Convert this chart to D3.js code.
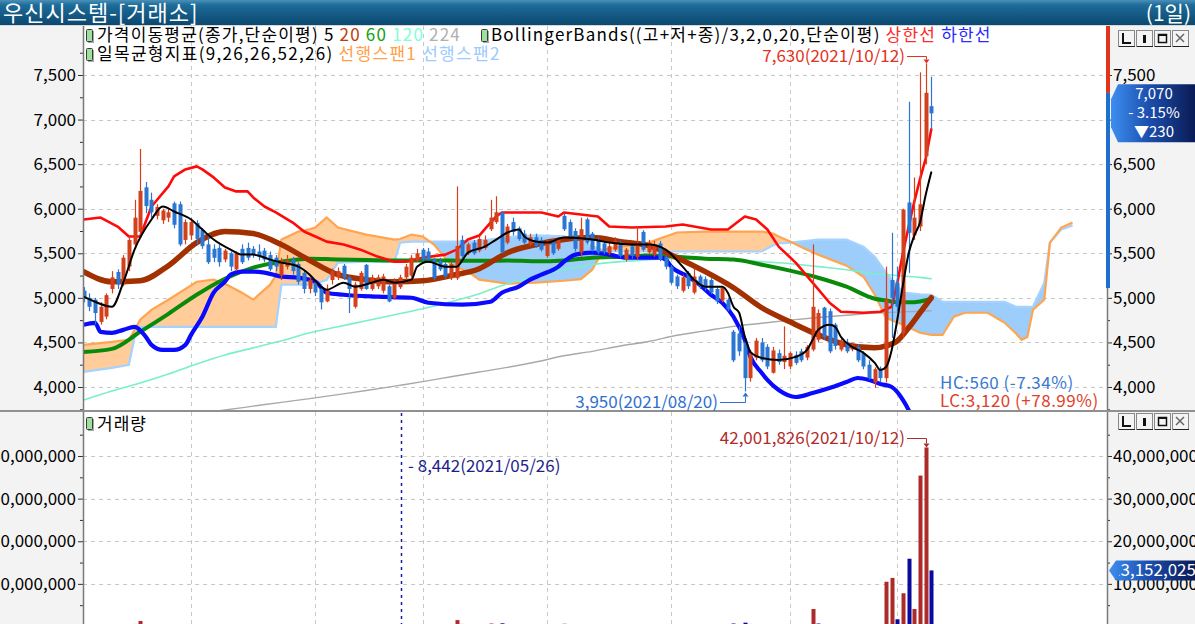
<!DOCTYPE html>
<html><head><meta charset="utf-8">
<script src="https://cdn.jsdelivr.net/npm/d3@7"></script>
<style>
body{margin:0;background:#fff;overflow:hidden}
text{font-family:"Noto Sans CJK KR","Noto Sans",sans-serif}
</style>
</head><body>
<svg id="c" width="1195" height="624"></svg>
<script>
// ---------------- DATA ----------------
const title = "우신시스템-[거래소]";
const period = "(1일)";
const priceTicks = [4000,4500,5000,5500,6000,6500,7000,7500];
const priceMinor = [3750,4250,4750,5250,5750,6250,6750,7250,7750];
const volTicks = [10000000,20000000,30000000,40000000];
const volMinor = [5000000,15000000,25000000,35000000,45000000];
const monthStartIdx = [19,41,60,82,104,125,144];

const opens = [5080,5000,4980,4730,4790,5100,5290,5150,5350,5600,5740,6240,6100,5920,5870,5900,6060,6050,5650,5700,
5840,5760,5600,5550,5560,5430,5500,5320,5550,5560,5550,5520,5530,5480,5450,5250,5350,5430,5380,5280,
5100,5170,5100,4960,5200,5230,5360,5230,4900,5100,5370,5100,5130,5080,5130,5000,5120,5230,5250,5420,
5540,5520,5430,5410,5380,5220,5220,5650,5500,5620,5530,5560,5770,5850,5960,5620,5850,5780,5720,5600,
5680,5650,5470,5640,5550,5920,5850,5750,5510,5880,5720,5650,5610,5500,5540,5620,5430,5580,5460,5740,
5510,5480,5610,5460,5350,5240,5080,5280,5060,5240,5210,5200,5100,4970,4980,4620,4600,4500,4100,4330,
4500,4450,4160,4380,4280,4230,4360,4400,4330,4420,4530,4890,4850,4700,4420,4500,4420,4450,4380,4250,
4050,4200,4100,5200,5170,4600,6070,5700,5800,6590,7150];
const highs = [5120,5050,5000,4950,5050,5300,5320,5480,5700,6100,6670,6300,6180,6050,6000,6000,6080,6080,5880,5900,
5870,5780,5700,5600,5600,5550,5520,5520,5600,5620,5580,5600,5560,5520,5480,5450,5480,5460,5400,5300,
5230,5200,5150,5150,5330,5340,5380,5250,5180,5300,5380,5260,5260,5270,5150,5220,5260,5380,5480,5550,
5560,5560,5450,5450,5400,5400,6250,5700,5620,5650,5700,5700,6100,6140,5970,5830,5900,5800,5760,5720,
5720,5680,5650,5660,5680,5950,5880,5780,5900,5900,5740,5680,5640,5620,5680,5640,5560,5600,5800,5760,
5650,5640,5640,5480,5370,5260,5260,5300,5330,5260,5240,5220,5120,5120,5000,4640,4680,4530,4420,4550,
4550,4480,4450,4420,4680,4400,4400,4430,4470,5600,4870,4900,4880,4720,4560,4540,4500,4480,4400,4300,
4220,4230,5350,5730,5350,6000,7200,6350,7530,7630,7480];
const lows = [4950,4850,4700,4700,4760,5050,5100,5130,5300,5550,5700,5950,5900,5880,5830,5850,5780,5580,5600,5650,
5600,5550,5380,5400,5350,5400,5300,5300,5380,5420,5450,5420,5400,5300,5300,5200,5320,5260,5150,5050,
5050,5020,4870,4950,5150,5200,5200,4830,4880,5080,5090,5080,5100,5050,4950,4980,5100,5200,5230,5400,
5400,5400,5200,5300,5220,5200,5200,5450,5480,5480,5510,5540,5750,5830,5500,5600,5700,5640,5600,5580,
5560,5520,5450,5480,5530,5750,5660,5520,5460,5600,5520,5490,5490,5480,5520,5450,5410,5440,5430,5520,
5490,5460,5410,5320,5150,5100,5060,5100,5040,5100,5080,5040,4930,4950,4850,4280,4350,3950,4060,4300,
4280,4200,4150,4250,4200,4200,4250,4280,4300,4400,4500,4530,4380,4420,4400,4380,4400,4280,4200,4080,
3990,4050,4050,4550,4850,4550,5280,5650,5750,6500,6890];
const closes = [4990,4900,4830,4900,5030,5230,5150,5450,5650,5900,6200,6030,5960,6020,5980,5960,5820,5600,5850,5850,
5660,5580,5400,5450,5400,5530,5350,5500,5400,5450,5480,5460,5430,5320,5350,5420,5420,5300,5180,5100,
5200,5060,4950,5100,5300,5300,5230,5100,5150,5280,5100,5230,5230,5240,4960,5180,5230,5350,5450,5500,
5430,5420,5220,5320,5240,5380,5580,5470,5600,5500,5660,5650,5900,5960,5510,5800,5740,5660,5620,5680,
5580,5540,5620,5500,5650,5770,5690,5550,5770,5620,5540,5510,5510,5580,5640,5470,5540,5470,5600,5540,
5620,5600,5430,5350,5170,5130,5230,5130,5240,5130,5110,5060,4960,5110,4870,4300,4400,4100,4380,4520,
4300,4230,4410,4280,4350,4380,4270,4300,4450,4900,4830,4560,4400,4460,4520,4400,4470,4300,4230,4100,
4200,4100,4980,5000,4900,5990,5730,5900,6050,7300,7070];
const volumes = [320000,280000,350000,300000,380000,420000,300000,390000,450000,600000,1300000,520000,380000,300000,260000,250000,280000,330000,240000,220000,
210000,200000,260000,180000,190000,170000,200000,160000,170000,150000,140000,150000,130000,160000,150000,170000,140000,150000,180000,200000,
160000,170000,210000,180000,190000,150000,140000,220000,190000,160000,200000,150000,130000,140000,190000,150000,8442,150000,200000,180000,
170000,160000,190000,150000,160000,200000,1500000,600000,350000,280000,400000,380000,700000,550000,750000,400000,300000,250000,230000,210000,
200000,190000,220000,230000,260000,650000,380000,300000,420000,350000,280000,240000,220000,200000,230000,210000,190000,180000,350000,260000,
220000,200000,230000,210000,300000,260000,240000,230000,280000,220000,200000,210000,260000,240000,330000,700000,500000,900000,600000,400000,
350000,330000,380000,300000,550000,320000,260000,240000,300000,4100000,700000,450000,420000,350000,300000,260000,240000,280000,300000,360000,
380000,330000,10500000,11400000,1700000,7800000,15900000,4100000,35400000,42001826,13152025];

// moving averages (values at these bar positions)
const lineIdx = [0,5,10,15,20,25,30,35,40,45,50,55,60,65,70,75,80,85,90,95,100,105,110,115,120,125,130,135,140,142,144,146,148,150];
const ma20 = [5294,5181,5192,5361,5620,5744,5721,5597,5420,5260,5204,5181,5192,5249,5327,5507,5597,5654,5676,5631,5586,5451,5294,5114,4889,4731,4585,4473,4439,4461,4518,4664,4833,5001];
const ma60 = [4394,4428,4619,4821,5035,5215,5339,5406,5440,5430,5425,5420,5420,5420,5415,5420,5410,5420,5451,5462,5474,5462,5440,5429,5372,5305,5226,5125,4990,4970,4950,4950,4960,4990];
const ma120 = [3854,3955,4045,4146,4259,4360,4439,4518,4608,4675,4743,4810,4878,4956,5046,5159,5237,5316,5372,5406,5429,5440,5440,5429,5406,5383,5350,5316,5271,5260,5250,5240,5230,5215];
const ma224 = [3530,3570,3615,3660,3700,3742,3785,3828,3870,3915,3960,4010,4060,4115,4168,4220,4280,4350,4400,4460,4510,4580,4630,4680,4715,4750,4780,4805,4830,4835,4840,4845,4850,4855];

const ma5Idx = [0,2,5,7,9,12,14,16,19,21,23,26,28,30,33,35,38,40,42,43,46,48,51,53,55,58,59,61,64,66,68,71,73,75,77,78,80,82,85,90,93,97,100,103,106,108,110,113,114,115,116,117,118,120,123,126,128,129,130,132,133,134,136,138,140,141,142,143,144,145,146,147,148,149,150];
const ma5 = [5013,4956,4900,5170,5541,5879,6025,5969,5879,5766,5654,5541,5485,5485,5429,5395,5350,5260,5125,5091,5170,5125,5170,5204,5170,5204,5350,5406,5350,5350,5508,5575,5654,5733,5766,5688,5631,5620,5676,5654,5620,5598,5598,5541,5350,5204,5125,5125,5058,4900,4833,4563,4394,4326,4304,4338,4416,4529,4641,4698,4675,4563,4450,4383,4270,4191,4225,4416,4760,5150,5500,5700,5845,6150,6408];
const bbUIdx = [0,3,6,8,10,12,15,16,18,20,21,23,25,27,29,30,32,34,37,39,41,43,46,49,52,55,57,60,64,66,68,70,72,73,74,81,84,85,91,93,97,103,106,111,114,117,119,121,123,126,129,132,134,138,141,143,144,145,146,147,148,149,150];
const bbUpper = [5879,5901,5800,5688,5688,6025,6250,6363,6441,6475,6441,6351,6239,6194,6194,6126,6025,5958,5845,5744,5688,5631,5598,5541,5463,5406,5406,5451,5485,5541,5654,5699,5845,5913,5958,5958,5913,5958,5913,5800,5789,5800,5823,5766,5766,5913,5879,5766,5575,5395,5170,4945,4844,4833,4844,4900,5170,5508,5800,6080,6330,6560,6890];
const bbLIdx = [0,2,3,5,7,9,11,12,14,16,18,19,21,23,25,26,28,30,32,35,38,41,43,46,52,58,61,67,72,74,77,79,81,84,85,87,90,93,96,102,103,104,107,109,111,113,115,117,118,120,121,123,126,129,132,135,137,139,141,143,145,146,148,150];
const bbLower = [4698,4720,4619,4608,4641,4675,4563,4473,4416,4416,4473,4585,4788,5058,5181,5260,5294,5294,5283,5238,5226,5181,5058,5035,5013,5001,4945,4923,4956,5058,5125,5204,5260,5350,5406,5485,5508,5485,5451,5451,5429,5350,5238,5148,5035,4945,4788,4529,4338,4158,4079,3966,3888,3933,3989,4056,4101,4079,4034,4000,3854,3741,3400,3060];

// ichimoku leading spans (shifted 26 bars ahead)
const cloudIdx = [0,5,8,9,10,12,15,20,23,25,28,30,33,34,35,38,40,41,43,45,50,55,56,58,60,62,65,68,70,75,80,85,88,90,92,95,100,103,105,110,115,120,122,123,125,128,130,135,138,140,142,145,148,150,152,154,156,160,163,165,166,167,168,170,171,173,175];
const span1 = [4473,4506,4530,4640,4754,4866,4979,5181,5204,5159,5058,4979,5148,5250,5654,5744,5770,5790,5901,5789,5710,5654,5660,5710,5688,5598,5372,5294,5204,5159,5170,5192,5210,5316,5541,5575,5620,5688,5733,5744,5744,5744,5720,5688,5631,5541,5485,5361,5237,5035,4776,4698,4608,4585,4585,4788,4833,4833,4720,4600,4529,4560,4866,4979,5620,5789,5845];
const span2 = [4169,4214,4250,4560,4675,4675,4675,4675,4675,4675,4675,4675,4675,4675,5148,5148,5148,5160,5200,5395,5406,5406,5620,5630,5630,5630,5630,5630,5640,5680,5700,5690,5650,5580,5530,5520,5520,5520,5520,5520,5520,5520,5590,5610,5620,5640,5654,5654,5575,5462,5282,5058,5040,5035,4956,4956,4956,4956,4956,4900,4900,4900,4900,5170,5620,5766,5811];

const lastPrice = 7070, prevClose = 7300, limitUp = 9490, limitDown = 5110;
const highIdx = 149, highVal = 7630, lowIdx = 117, lowVal = 3950;
const minVolIdx = 56;

// ---------------- LAYOUT ----------------
const W = 1195, H = 624;
const PL = 83, PR = 1107, PT = 26, PB = 410, VT = 412;
const FONT = '"Noto Sans CJK KR","Noto Sans",sans-serif';
const svg = d3.select('#c');
const defs = svg.append('defs');

const x = d3.scaleLinear().domain([-0.12, 181.1]).range([PL, PR]);
const y = d3.scaleLinear().domain([4000, 7500]).range([387, 75]);
const yv = d3.scaleLinear().domain([0, 40000000]).range([626.5, 456]);

// gradients
const tg = defs.append('linearGradient').attr('id','tg').attr('x1',0).attr('y1',0).attr('x2',0).attr('y2',1);
tg.append('stop').attr('offset','0%').attr('stop-color','#4a90b8');
tg.append('stop').attr('offset','20%').attr('stop-color','#1d6c98');
tg.append('stop').attr('offset','100%').attr('stop-color','#0b4870');
const lg = defs.append('linearGradient').attr('id','lg').attr('x1',0).attr('y1',0).attr('x2',1).attr('y2',0);
lg.append('stop').attr('offset','0%').attr('stop-color','#3d8ff0');
lg.append('stop').attr('offset','45%').attr('stop-color','#1c4fae');
lg.append('stop').attr('offset','100%').attr('stop-color','#0a1a55');

// clip paths
defs.append('clipPath').attr('id','cp').append('rect').attr('x',PL).attr('y',PT).attr('width',PR-PL).attr('height',PB-PT);
defs.append('clipPath').attr('id','cv').append('rect').attr('x',PL).attr('y',VT).attr('width',PR-PL).attr('height',H-VT);

// backgrounds
svg.append('rect').attr('width',W).attr('height',H).attr('fill','#f3f3f3');
svg.append('rect').attr('x',PL).attr('y',PT).attr('width',PR-PL).attr('height',PB-PT).attr('fill','#fff');
svg.append('rect').attr('x',PL).attr('y',VT).attr('width',PR-PL).attr('height',H-VT).attr('fill','#fff');

// title bar
svg.append('rect').attr('x',0).attr('y',0).attr('width',W).attr('height',25).attr('fill','url(#tg)');
svg.append('line').attr('x1',0).attr('x2',W).attr('y1',25.5).attr('y2',25.5).attr('stroke','#d8d8d8');
svg.append('text').attr('x',3).attr('y',21).attr('fill','#fff').attr('font-size',22).attr('letter-spacing',1).text(title);
svg.append('text').attr('x',1191).attr('y',21).attr('text-anchor','end').attr('fill','#fff').attr('font-size',21).text(period);

// grid
const grid = svg.append('g').attr('stroke','#c8c8c8').attr('stroke-dasharray','4,4').attr('stroke-width',1);
priceTicks.forEach(v => { const yy = Math.round(y(v)) + 0.5;
  grid.append('line').attr('x1',PL).attr('x2',PR).attr('y1',yy).attr('y2',yy); });
volTicks.forEach(v => { const yy = Math.round(yv(v)) + 0.5;
  grid.append('line').attr('x1',PL).attr('x2',PR).attr('y1',yy).attr('y2',yy); });
monthStartIdx.forEach(i => { const xx = Math.round(x(i)) + 0.5;
  grid.append('line').attr('x1',xx).attr('x2',xx).attr('y1',PT).attr('y2',PB);
  grid.append('line').attr('x1',xx).attr('x2',xx).attr('y1',VT).attr('y2',H); });

// ---------------- PRICE PANEL ----------------
const gp = svg.append('g').attr('clip-path','url(#cp)');

// cloud
const cloud = cloudIdx.map((d,k) => ({i:d, a:span1[k], b:span2[k]}));
const BIG = 3000;
defs.append('clipPath').attr('id','belowA').append('path')
  .attr('d', d3.area().x(d=>x(d.i)).y0(d=>y(d.a)).y1(BIG)(cloud));
defs.append('clipPath').attr('id','belowB').append('path')
  .attr('d', d3.area().x(d=>x(d.i)).y0(d=>y(d.b)).y1(BIG)(cloud));
gp.append('path').attr('d', d3.area().x(d=>x(d.i)).y0(-BIG).y1(d=>y(d.b))(cloud))
  .attr('fill','#ffcc9a').attr('clip-path','url(#belowA)');
gp.append('path').attr('d', d3.area().x(d=>x(d.i)).y0(-BIG).y1(d=>y(d.a))(cloud))
  .attr('fill','#9dcdfb').attr('clip-path','url(#belowB)');
gp.append('path').attr('d', d3.line().x(d=>x(d.i)).y(d=>y(d.b))(cloud))
  .attr('fill','none').attr('stroke','#a6d2ff').attr('stroke-width',2.2);
gp.append('path').attr('d', d3.line().x(d=>x(d.i)).y(d=>y(d.a))(cloud))
  .attr('fill','none').attr('stroke','#ffa54f').attr('stroke-width',2.2);

function drawLine(idx, vals, color, width, curve) {
  const pts = idx.map((d,k) => ({i:d, v:vals[k]}));
  gp.append('path').attr('d', d3.line().x(d=>x(d.i)).y(d=>y(d.v)).curve(curve)(pts))
    .attr('fill','none').attr('stroke',color).attr('stroke-width',width)
    .attr('stroke-linejoin','round').attr('stroke-linecap','round');
}
drawLine(lineIdx, ma224, '#a9a9a9', 1.4, d3.curveMonotoneX);
drawLine(lineIdx, ma120, '#78f0c8', 1.6, d3.curveMonotoneX);
drawLine(lineIdx, ma60, '#0a8a0a', 4, d3.curveMonotoneX);
drawLine(lineIdx, ma20, '#a33000', 5.5, d3.curveMonotoneX);
drawLine(bbUIdx, bbUpper, '#ff0a0a', 2.6, d3.curveLinear);
drawLine(bbLIdx, bbLower, '#0a0aff', 4.2, d3.curveMonotoneX);

// candles
const UP = '#d2401c', DN = '#2a76d2';
closes.forEach((c,i) => {
  const o = opens[i], col = c >= o ? UP : DN;
  const xc = Math.round(x(i));
  gp.append('line').attr('x1',xc+0.5).attr('x2',xc+0.5).attr('y1',y(highs[i])).attr('y2',y(lows[i]))
    .attr('stroke',col).attr('stroke-width',1.2);
  const top = y(Math.max(o,c)), bot = y(Math.min(o,c));
  gp.append('rect').attr('x',xc-1.5).attr('y',top).attr('width',4).attr('height',Math.max(1.5,bot-top)).attr('fill',col);
});
drawLine(ma5Idx, ma5, '#000', 2, d3.curveMonotoneX);

// ---------------- VOLUME PANEL ----------------
const gv = svg.append('g').attr('clip-path','url(#cv)');
volumes.forEach((v,i) => {
  const up = i === 0 ? true : closes[i] >= closes[i-1];
  const xc = Math.round(x(i));
  gv.append('rect').attr('x',xc-1.5).attr('y',yv(v)).attr('width',4).attr('height',Math.max(0,yv(0)-yv(v)))
    .attr('fill', up ? '#ad2a2a' : '#0a0a9e');
});
const xm = Math.round(x(minVolIdx)) + 1.5;
svg.append('line').attr('x1',xm).attr('x2',xm).attr('y1',VT+1).attr('y2',H)
  .attr('stroke','#1a1aa0').attr('stroke-width',1.5).attr('stroke-dasharray','3,4');

// ---------------- AXES ----------------
function styleAxis(g){ g.attr('font-family',FONT).attr('font-size',17);
  g.select('.domain').remove(); g.selectAll('line').attr('stroke','#333'); g.selectAll('text').attr('fill','#000'); }
svg.append('g').attr('transform',`translate(${PL},0)`).call(d3.axisLeft(y).tickValues(priceTicks).tickFormat(d3.format(',')).tickSize(5).tickPadding(2)).call(styleAxis);
svg.append('g').attr('transform',`translate(${PL},0)`).call(d3.axisLeft(y).tickValues(priceMinor).tickFormat('').tickSize(3)).call(styleAxis);
svg.append('g').attr('transform',`translate(${PR},0)`).call(d3.axisRight(y).tickValues(priceTicks).tickFormat(d3.format(',')).tickSize(5).tickPadding(1)).call(styleAxis);
svg.append('g').attr('transform',`translate(${PR},0)`).call(d3.axisRight(y).tickValues(priceMinor).tickFormat('').tickSize(3)).call(styleAxis);
svg.append('g').attr('transform',`translate(${PL},0)`).call(d3.axisLeft(yv).tickValues(volTicks).tickFormat(d3.format(',')).tickSize(5).tickPadding(2)).call(styleAxis);
svg.append('g').attr('transform',`translate(${PL},0)`).call(d3.axisLeft(yv).tickValues(volMinor).tickFormat('').tickSize(3)).call(styleAxis);
svg.append('g').attr('transform',`translate(${PR},0)`).call(d3.axisRight(yv).tickValues(volTicks).tickFormat(d3.format(',')).tickSize(5).tickPadding(1)).call(styleAxis);
svg.append('g').attr('transform',`translate(${PR},0)`).call(d3.axisRight(yv).tickValues(volMinor).tickFormat('').tickSize(3)).call(styleAxis);

// axis lines and separator
svg.append('line').attr('x1',PL+0.5).attr('x2',PL+0.5).attr('y1',PT).attr('y2',H).attr('stroke','#7a7a7a').attr('stroke-width',1.5);
svg.append('line').attr('x1',PR+0.5).attr('x2',PR+0.5).attr('y1',PT).attr('y2',H).attr('stroke','#7a7a7a').attr('stroke-width',1.5);
svg.append('line').attr('x1',0).attr('x2',W).attr('y1',411).attr('y2',411).attr('stroke','#909090').attr('stroke-width',2);

// daily limit bar
svg.append('rect').attr('x',PR-1).attr('y',Math.max(PT,y(limitUp))).attr('width',4).attr('height',y(prevClose)-Math.max(PT,y(limitUp))).attr('fill','#e0351a');
svg.append('rect').attr('x',PR-1).attr('y',y(prevClose)).attr('width',4).attr('height',y(limitDown)-y(prevClose)).attr('fill','#1f6fd0');

// current price label
const yl = y(lastPrice);
svg.append('path').attr('d',`M1118,${yl-29} H1195 V${yl+29} H1118 L1111,${yl+14} V${yl-14} Z`).attr('fill','url(#lg)');
const chg = lastPrice - prevClose;
svg.append('text').attr('x',1154).attr('y',yl-14).attr('text-anchor','middle').attr('fill','#fff').attr('font-size',15).text(d3.format(',')(lastPrice));
svg.append('text').attr('x',1154).attr('y',yl+5).attr('text-anchor','middle').attr('fill','#fff').attr('font-size',15).text('- ' + d3.format('.2f')(Math.abs(chg)/prevClose*100) + '%');
svg.append('text').attr('x',1154).attr('y',yl+24).attr('text-anchor','middle').attr('fill','#fff').attr('font-size',15).text('▼' + Math.abs(chg));

// current volume label
const yvl = yv(volumes[volumes.length-1]);
defs.append('clipPath').attr('id','vlc').append('rect').attr('x',1119).attr('y',yvl-12).attr('width',80).attr('height',24);
svg.append('path').attr('d',`M1116,${yvl-10} H1195 V${yvl+10} H1116 L1109,${yvl} Z`).attr('fill','url(#lg)');
svg.append('text').attr('x',1196).attr('y',yvl+6).attr('text-anchor','end').attr('fill','#fff').attr('font-size',17)
  .attr('clip-path','url(#vlc)').text(d3.format(',')(volumes[volumes.length-1]));

// window buttons
function buttons(y0){
  const syms = ['L','I','box','x'];
  syms.forEach((s,k) => {
    const bx = 1118 + k*18;
    svg.append('rect').attr('x',bx+0.5).attr('y',y0+0.5).attr('width',16).attr('height',16).attr('fill','#f4f4f4').attr('stroke','#888');
    svg.append('line').attr('x1',bx+1).attr('x2',bx+17).attr('y1',y0+16.5).attr('y2',y0+16.5).attr('stroke','#222');
    if (s==='L') svg.append('path').attr('d',`M${bx+5},${y0+3} V${y0+13} H${bx+13}`).attr('fill','none').attr('stroke','#111').attr('stroke-width',2);
    if (s==='I') svg.append('rect').attr('x',bx+7).attr('y',y0+5).attr('width',3).attr('height',8).attr('fill','#111');
    if (s==='box') { svg.append('rect').attr('x',bx+4.5).attr('y',y0+4.5).attr('width',8).attr('height',8).attr('fill','none').attr('stroke','#111').attr('stroke-width',1.5);
      svg.append('line').attr('x1',bx+4).attr('x2',bx+13).attr('y1',y0+5).attr('y2',y0+5).attr('stroke','#111').attr('stroke-width',2); }
    if (s==='x') svg.append('path').attr('d',`M${bx+4},${y0+4} L${bx+12},${y0+12} M${bx+12},${y0+4} L${bx+4},${y0+12}`).attr('stroke','#666').attr('stroke-width',1.5);
  });
}
buttons(30); buttons(413);

// ---------------- LEGENDS ----------------
function icon(x0,y0){
  svg.append('rect').attr('x',x0+2).attr('y',y0+2).attr('width',6).attr('height',12).attr('fill','#a8a8a8');
  svg.append('rect').attr('x',x0+0.5).attr('y',y0+0.5).attr('width',6).attr('height',12).attr('rx',1).attr('fill','#9ee09e').attr('stroke','#3a3a3a');
}
function legendLine(x0, yb, parts, ls){
  const t = svg.append('text').attr('x',x0).attr('y',yb).attr('font-size',17).attr('letter-spacing',ls).attr('xml:space','preserve');
  parts.forEach(p => t.append('tspan').attr('fill',p[1]).text(p[0]));
  return t;
}
icon(86,29);
legendLine(97, 41, [["가격이동평균(종가,단순이평) ",'#000'],["5 ",'#000'],["20 ",'#c03a08'],["60 ",'#10a010'],["120 ",'#80ffd8'],["224",'#b0b0b0']], 1.2);
icon(481,29);
legendLine(491, 41, [["BollingerBands((고+저+종)/3,2,0,20,단순이평) ",'#000'],["상한선 ",'#ff2a2a'],["하한선",'#2a2aff']], 1.2);
icon(86,48);
legendLine(97, 60, [["일목균형지표(9,26,26,52,26) ",'#000'],["선행스팬1 ",'#ffa04a'],["선행스팬2",'#9ccaff']], 1.3);
icon(86,417);
legendLine(97, 430, [["거래량",'#000']], 1.0);

// ---------------- ANNOTATIONS ----------------
const fmt = d3.format(',');
// high
const xh = Math.round(x(highIdx)) + 0.5, yh = y(highVal);
svg.append('text').attr('x',905).attr('y',62).attr('text-anchor','end').attr('fill','#e2321e').attr('font-size',17).text(`${fmt(highVal)}(2021/10/12)`);
svg.append('path').attr('d',`M907,56.5 H${xh} V${yh-4}`).attr('fill','none').attr('stroke','#e2321e');
svg.append('path').attr('d',`M${xh-3},${yh-4} L${xh+3},${yh-4} L${xh},${yh} Z`).attr('fill','#e2321e');
// low
const xlw = Math.round(x(lowIdx)) + 0.5, ylw = y(lowVal);
svg.append('text').attr('x',718).attr('y',408).attr('text-anchor','end').attr('fill','#2f6fd0').attr('font-size',17).text(`${fmt(lowVal)}(2021/08/20)`);
svg.append('path').attr('d',`M720,402.5 H${xlw} V${ylw+5}`).attr('fill','none').attr('stroke','#2f6fd0');
svg.append('path').attr('d',`M${xlw-3},${ylw+5} L${xlw+3},${ylw+5} L${xlw},${ylw+1} Z`).attr('fill','#2f6fd0');
// HC / LC
const hc = highVal - lastPrice, lc = lastPrice - lowVal;
svg.append('text').attr('x',940).attr('y',389).attr('fill','#3a78d0').attr('font-size',17).attr('letter-spacing',0.5).text(`HC:${fmt(hc)} (-${d3.format('.2f')(hc/highVal*100)}%)`);
svg.append('text').attr('x',940).attr('y',407).attr('fill','#e0402a').attr('font-size',17).attr('letter-spacing',0.5).text(`LC:${fmt(lc)} (+${d3.format('.2f')(lc/lowVal*100)}%)`);
// volume max
const vmax = volumes[highIdx], yvm = yv(vmax);
svg.append('text').attr('x',905).attr('y',444).attr('text-anchor','end').attr('fill','#b02c2c').attr('font-size',17).text(`${fmt(vmax)}(2021/10/12)`);
svg.append('path').attr('d',`M907,438.5 H${xh} V${yvm-4}`).attr('fill','none').attr('stroke','#b02c2c');
svg.append('path').attr('d',`M${xh-3},${yvm-4} L${xh+3},${yvm-4} L${xh},${yvm} Z`).attr('fill','#b02c2c');
// volume min
svg.append('text').attr('x',408).attr('y',472).attr('fill','#1e1e8c').attr('font-size',17).text(`- ${fmt(volumes[minVolIdx])}(2021/05/26)`);
</script>
</body></html>
